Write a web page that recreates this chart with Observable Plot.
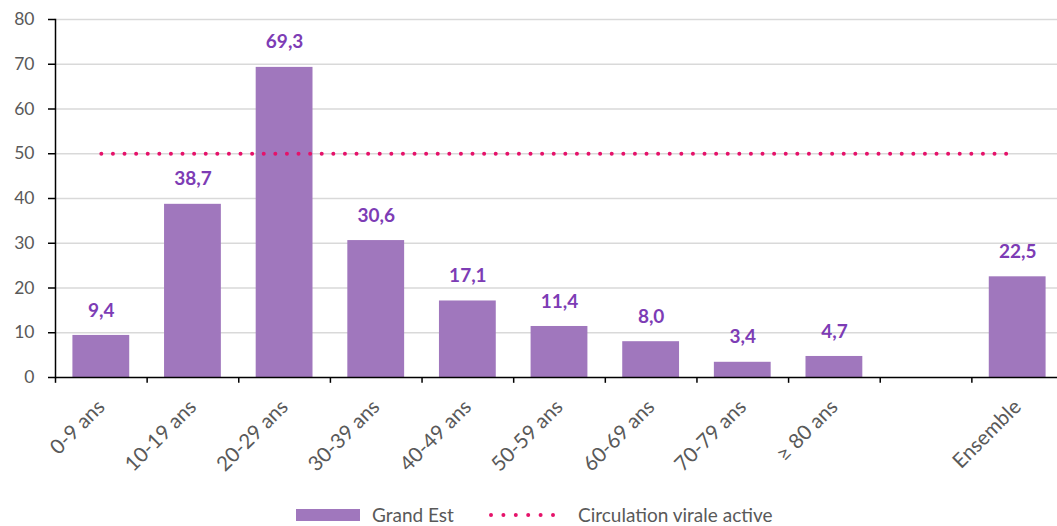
<!DOCTYPE html>
<html>
<head>
<meta charset="utf-8">
<script src="https://cdn.jsdelivr.net/npm/d3@7"></script>
<script src="https://cdn.jsdelivr.net/npm/@observablehq/plot@0.6"></script>
<style>
  body { margin: 0; background: #fff; font-family: Lato, "Open Sans", sans-serif; }
  #wrap { position: relative; width: 1057px; height: 526px; overflow: hidden; }
  #legend { position: absolute; left: 0; top: 504px; width: 1057px; height: 22px; }
  .item { position: absolute; top: 0; display: flex; align-items: center; height: 22px; line-height: 22px; font-size: 19px; color: #595959; }
</style>
</head>
<body>
<div id="wrap">
  <div id="chart"></div>
  <div id="legend">
    <div class="item" style="left:296px">
      <svg width="64" height="12" style="margin-right:12px"><rect x="0" y="0" width="64" height="12" fill="#a077bd"></rect></svg>
      <span>Grand Est</span>
    </div>
    <div class="item" style="left:488px">
      <svg width="70" height="12" style="margin-right:20px"><line x1="3" y1="6" x2="65" y2="6" stroke="#e5126a" stroke-width="4" stroke-linecap="round" stroke-dasharray="0 12.4"></line></svg>
      <span>Circulation virale active</span>
    </div>
  </div>
</div>
<script>
const categories = ["0-9 ans", "10-19 ans", "20-29 ans", "30-39 ans", "40-49 ans", "50-59 ans", "60-69 ans", "70-79 ans", "≥ 80 ans", "", "Ensemble"];
const values = [9.4, 38.7, 69.3, 30.6, 17.1, 11.4, 8.0, 3.4, 4.7, null, 22.5];
const valueLabels = ["9,4", "38,7", "69,3", "30,6", "17,1", "11,4", "8,0", "3,4", "4,7", "", "22,5"];
const thresholdValue = 50;
const yTicks = [0, 10, 20, 30, 40, 50, 60, 70, 80];

const bars = categories.map((c, i) => ({cat: c, value: values[i], label: valueLabels[i]}))
  .filter(d => d.value != null);
const threshold = [{cat: categories[0], value: thresholdValue}, {cat: categories[categories.length - 1], value: thresholdValue}];

const xRange = [55, 1063];
const step = (xRange[1] - xRange[0]) / categories.length;

const chart = Plot.plot({
  width: 1057,
  height: 500,
  marginLeft: 55,
  marginRight: 0,
  marginTop: 19,
  marginBottom: 123,
  style: {fontFamily: "Lato, 'Open Sans', sans-serif", background: "#fff"},
  x: {domain: categories, range: xRange, paddingInner: 0.38, paddingOuter: 0.19, round: false, label: null},
  y: {domain: [0, 80], label: null},
  marks: [
    Plot.gridY(yTicks.filter(t => t > 0), {stroke: "#d9d9d9", strokeOpacity: 1, strokeWidth: 1.5}),
    Plot.barY(bars, {x: "cat", y: "value", fill: "#a077bd"}),
    Plot.text(bars, {x: "cat", y: "value", text: "label", dy: -25, fill: "#7d3cb5", fontSize: 19, fontWeight: "bold"}),
    Plot.line(threshold, {x: "cat", y: "value", stroke: "#e5126a", strokeWidth: 4, strokeLinecap: "round", strokeDasharray: "0 11.6"}),
    Plot.ruleY([0], {stroke: "#000", strokeWidth: 1.5}),
    Plot.ruleX(categories, {x: d => d, dx: -step / 2, y1: 0, y2: -1.3, stroke: "#000", strokeWidth: 1.5}),
    Plot.frame({anchor: "left", stroke: "#000", strokeWidth: 1.5}),
    Plot.axisY({ticks: yTicks, tickSize: 7, tickPadding: 14, fontSize: 17.5, color: "#595959", stroke: "#000", strokeWidth: 1.5, label: null, tickFormat: d => String(d)}),
    Plot.axisX({tickSize: 0, tickRotate: -45, tickPadding: 26, dx: 0, fontSize: 20.5, color: "#595959", label: null})
  ]
});
document.getElementById("chart").appendChild(chart);
</script>
</body>
</html>
